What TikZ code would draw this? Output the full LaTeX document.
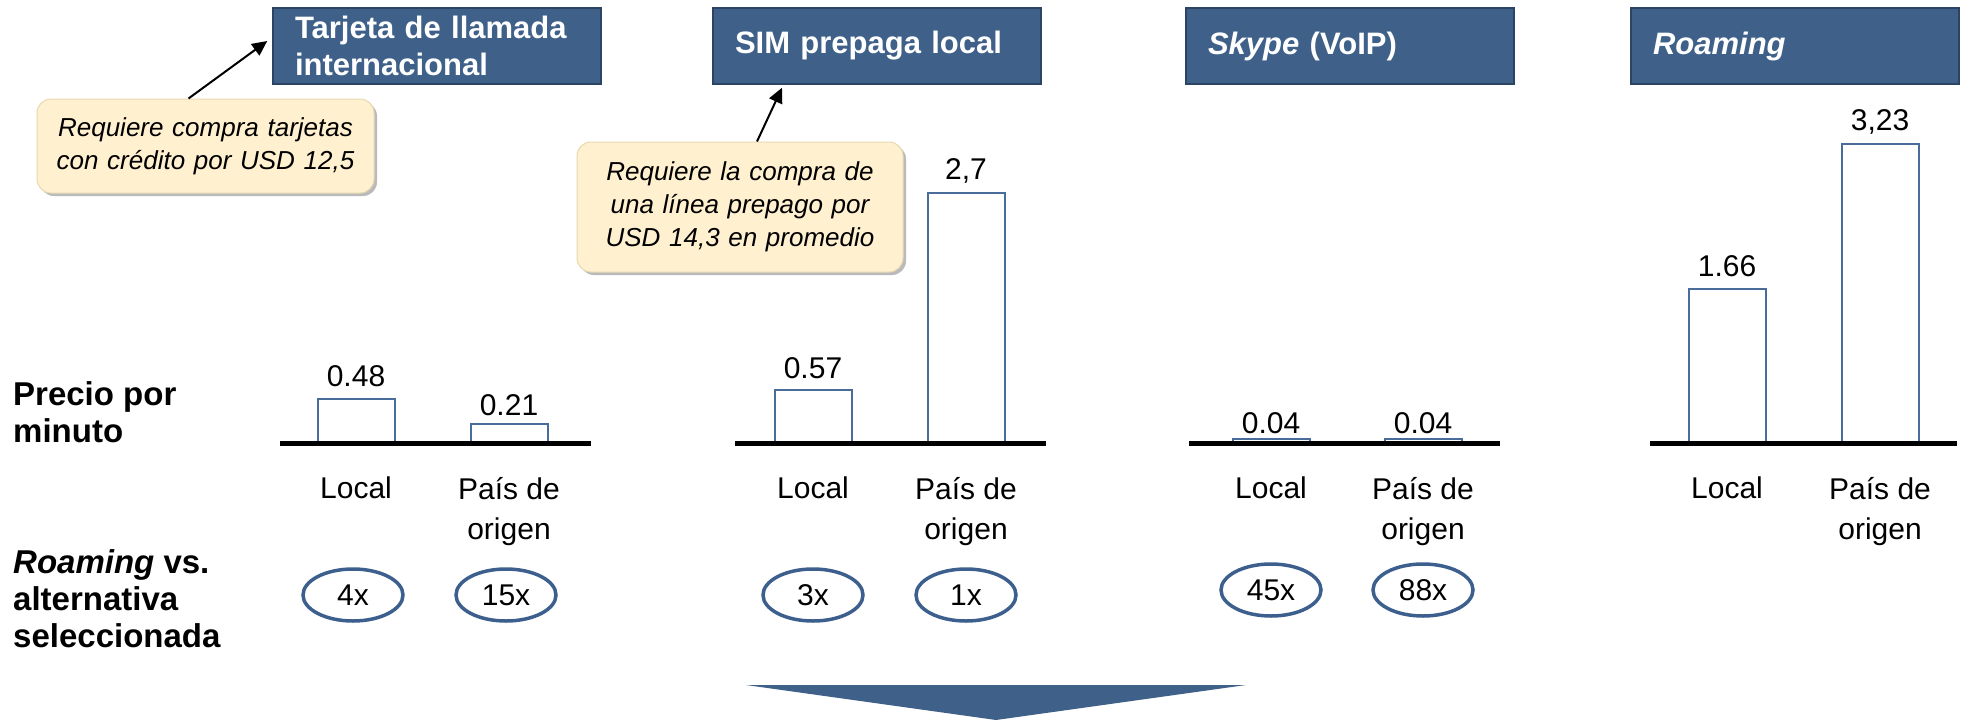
\documentclass[tikz,border=0pt]{standalone}
\usepackage{fontspec}
\setmainfont{Liberation Sans}
\usetikzlibrary{arrows.meta, shapes.geometric, shadows, positioning}
\definecolor{headblue}{RGB}{62,96,137}
\definecolor{headedge}{RGB}{44,68,100}
\definecolor{barblue}{RGB}{74,108,155}
\definecolor{ringblue}{RGB}{60,95,142}
\definecolor{notefill}{RGB}{255,240,208}
\definecolor{noteedge}{RGB}{232,216,178}
\tikzset{
	header/.style={draw=headedge, line width=1.5pt, fill=headblue, text=white,
		font=\fontsize{31}{37}\selectfont\bfseries, minimum height=76pt,
		text width=284pt, inner xsep=22pt, inner ysep=0pt, align=left},
	note/.style={draw=noteedge, line width=1pt, fill=notefill, rounded corners=14pt,
		font=\fontsize{26}{33}\selectfont\itshape, align=center, inner xsep=0pt,
		drop shadow={shadow xshift=3pt, shadow yshift=-3pt, fill=black!45, opacity=0.6}},
	pointer/.style={line width=2pt, -{Triangle[length=15pt, width=14pt]}},
	rowlabel/.style={font=\fontsize{33}{37}\selectfont\bfseries, align=left, anchor=north west, inner sep=0pt},
	axis/.style={line width=5pt},
	pricebar/.style={draw=barblue, line width=2pt, fill=white},
	val/.style={font=\fontsize{30}{36}\selectfont, anchor=base, inner sep=0pt},
	cat/.style={font=\fontsize{30}{40}\selectfont, align=center, anchor=north, inner sep=0pt},
	ratio/.style={ellipse, draw=ringblue, line width=3.5pt, minimum width=100pt, minimum height=52pt,
		inner sep=0pt, font=\fontsize{30}{36}\selectfont}
}

\begin{document}
\begin{tikzpicture}[x=1pt, y=-1pt]
	\useasboundingbox (0,0) rectangle (1961,720);
	\node[header] (tarjeta) at (437,46) {Tarjeta de llamada\\internacional};
	\node[header] (sim) at (877,46) {SIM prepaga local};
	\node[header] (skype) at (1350,46) {\textit{Skype} (VoIP)};
	\node[header] (roaming) at (1795,46) {\textit{Roaming}};

	\node[note, text width=337pt, minimum height=94pt] (note1) at (205.5,146) {Requiere compra tarjetas\\con crédito por USD 12,5};
	\node[note, text width=326pt, minimum height=130pt] (note2) at (740,207) {Requiere la compra de\\una línea prepago por\\USD 14,3 en promedio};
	\draw[pointer] ([xshift=-17pt]note1.north) -- ([xshift=-5pt, yshift=5pt]tarjeta.west);
	\draw[pointer] ([xshift=17pt]note2.north) -- ([xshift=-95pt, yshift=-3pt]sim.south);

	\node[rowlabel] (precio) at (13,381) {Precio por\\minuto};
	\node[rowlabel] (versus) at (13,549) {\textit{Roaming} vs.\\alternativa\\seleccionada};

	\foreach \cx/\v/\g/\lab in {356/0.48/12/0.48, 509/0.21/8/0.21, 813/0.57/12/0.57, 966/2.7/13/{2,7},
		1271/0.04/6/0.04, 1423/0.04/6/0.04, 1727/1.66/13/1.66, 1880/3.23/13/{3,23}} {
		\draw[pricebar] (\cx-38.5,443) rectangle (\cx+38.5,{443-92.6*\v});
		\node[val] (v\cx) at (\cx,{443-92.6*\v-\g}) {\lab};
	}
	\foreach \l/\r in {280/591, 735/1046, 1189/1500, 1650/1957}
		\draw[axis] (\l,443) -- (\r,443);

	\foreach \cx in {356, 813, 1271, 1727}
		\node[cat] (loc\cx) at (\cx,477) {Local};
	\foreach \cx in {509, 966, 1423, 1880}
		\node[cat] (ori\cx) at (\cx,477) {País de\\origen};

	\foreach \cx/\cy/\t in {353/595/4x, 506/595/15x, 813/595/3x, 966/595/1x, 1271/590/45x, 1423/590/88x}
		\node[ratio] (r\t) at (\cx,\cy) {\t};

	\fill[headblue] (746,685) -- (1246,685) -- (996,720) -- cycle;
\end{tikzpicture}
\end{document}
